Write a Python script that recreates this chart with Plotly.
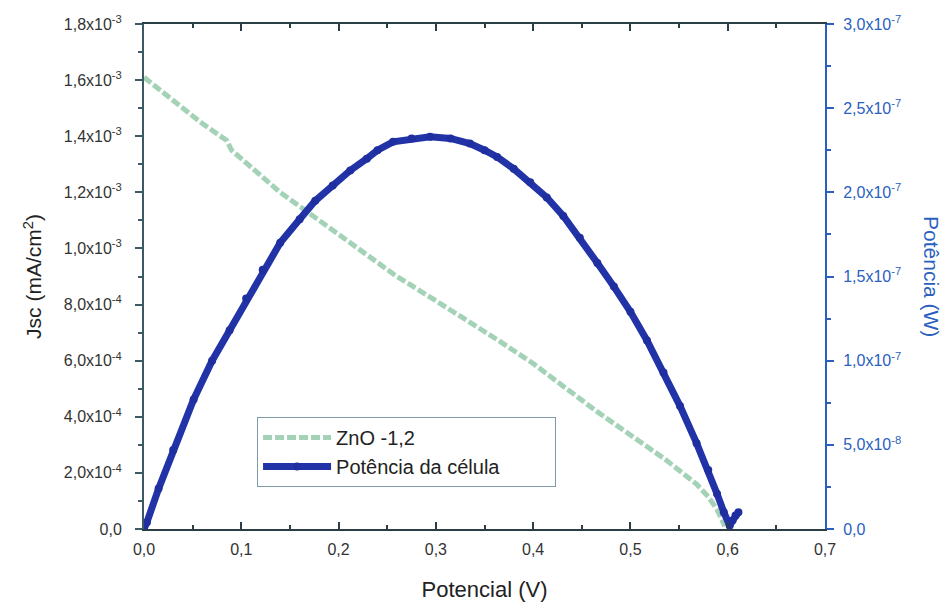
import plotly.graph_objects as go

# ---- data ----
jsc_v = [0.0, 0.02, 0.04, 0.06, 0.085, 0.09, 0.10, 0.12, 0.14, 0.16, 0.18, 0.20, 0.236,
         0.26, 0.297, 0.33, 0.363, 0.40, 0.431, 0.465, 0.50, 0.535, 0.568, 0.58, 0.589, 0.597]
jsc_j = [1.61e-3, 1.555e-3, 1.50e-3, 1.445e-3, 1.385e-3, 1.35e-3, 1.32e-3, 1.26e-3, 1.20e-3,
         1.15e-3, 1.10e-3, 1.05e-3, 0.96e-3, 0.90e-3, 0.82e-3, 0.75e-3, 0.675e-3, 0.59e-3,
         0.507e-3, 0.42e-3, 0.335e-3, 0.25e-3, 0.16e-3, 0.115e-3, 0.07e-3, 0.01e-3]

pow_v = [0.0, 0.003, 0.015, 0.030, 0.051, 0.070, 0.088, 0.105, 0.122, 0.140, 0.160, 0.176,
         0.194, 0.212, 0.229, 0.240, 0.256, 0.275, 0.294, 0.315, 0.335, 0.350, 0.363, 0.380,
         0.397, 0.414, 0.431, 0.448, 0.466, 0.483, 0.500, 0.517, 0.534, 0.551, 0.568, 0.580,
         0.589, 0.596, 0.602, 0.605, 0.608, 0.611]
pow_w = [0.0, 0.04e-7, 0.24e-7, 0.47e-7, 0.77e-7, 1.00e-7, 1.18e-7, 1.37e-7, 1.54e-7, 1.70e-7,
         1.84e-7, 1.95e-7, 2.04e-7, 2.13e-7, 2.20e-7, 2.25e-7, 2.30e-7, 2.32e-7, 2.33e-7,
         2.32e-7, 2.29e-7, 2.25e-7, 2.21e-7, 2.14e-7, 2.06e-7, 1.97e-7, 1.86e-7, 1.73e-7,
         1.58e-7, 1.44e-7, 1.29e-7, 1.12e-7, 0.93e-7, 0.73e-7, 0.51e-7, 0.35e-7, 0.21e-7,
         0.10e-7, 0.02e-7, 0.05e-7, 0.08e-7, 0.10e-7]

x_ticks = [0.0, 0.1, 0.2, 0.3, 0.4, 0.5, 0.6, 0.7]
x_labels = ["0,0", "0,1", "0,2", "0,3", "0,4", "0,5", "0,6", "0,7"]
y_ticks = [0.0, 2e-4, 4e-4, 6e-4, 8e-4, 1.0e-3, 1.2e-3, 1.4e-3, 1.6e-3, 1.8e-3]
y_labels = ["0,0", "2,0x10<sup>-4</sup>", "4,0x10<sup>-4</sup>", "6,0x10<sup>-4</sup>",
            "8,0x10<sup>-4</sup>", "1,0x10<sup>-3</sup>", "1,2x10<sup>-3</sup>",
            "1,4x10<sup>-3</sup>", "1,6x10<sup>-3</sup>", "1,8x10<sup>-3</sup>"]
y2_ticks = [0.0, 5e-8, 1.0e-7, 1.5e-7, 2.0e-7, 2.5e-7, 3.0e-7]
y2_labels = ["0,0", "5,0x10<sup>-8</sup>", "1,0x10<sup>-7</sup>", "1,5x10<sup>-7</sup>",
             "2,0x10<sup>-7</sup>", "2,5x10<sup>-7</sup>", "3,0x10<sup>-7</sup>"]
series_names = ["ZnO -1,2", "Potência da célula"]

FONT = "Liberation Sans, Arial, sans-serif"
LEFT_C = "#3b5a63"
RIGHT_C = "#2a5fc0"
TICK_F = 16
PAD = "&nbsp;" * 9

fig = go.Figure()
fig.add_trace(go.Scatter(
    x=jsc_v, y=jsc_j, name=series_names[0] + PAD, mode="lines",
    line=dict(color="#a3d2b6", width=5, dash="9px,3px"), yaxis="y"))
fig.add_trace(go.Scatter(
    x=pow_v, y=pow_w, name=series_names[1] + PAD, mode="lines+markers",
    line=dict(color="#2233a8", width=7),
    marker=dict(color="#1f2fa0", size=8), yaxis="y2"))

# page body has an 8px margin, so the figure is 943x604 and shifted by 8px
fig.update_layout(
    width=943, height=604,
    margin=dict(l=136, r=126, t=16, b=83, autoexpand=False),
    paper_bgcolor="white", plot_bgcolor="white",
    font=dict(family=FONT, size=TICK_F, color="#333333"),
    showlegend=True,
    legend=dict(x=0.166, y=0.222, xanchor="left", yanchor="top",
                bordercolor="#7f9aa8", borderwidth=1, bgcolor="white",
                font=dict(family=FONT, size=20, color="#222222"),
                tracegroupgap=0, itemwidth=68),
    xaxis=dict(range=[0, 0.7], tickvals=x_ticks, ticktext=x_labels, automargin=False,
               showgrid=False, zeroline=False, showline=True, linecolor="#2b3d45",
               linewidth=2, ticks="inside", ticklen=7, tickwidth=2, tickcolor="#2b3d45",
               mirror="ticks", ticklabelstandoff=5,
               minor=dict(ticks="inside", ticklen=4, tickwidth=2, tickcolor="#2b3d45", dtick=0.05),
               tickfont=dict(size=TICK_F, color="#333333"),
               title=dict(text="Potencial (V)", font=dict(size=22, color="#222222"), standoff=24)),
    yaxis=dict(range=[0, 1.8e-3], tickvals=y_ticks, ticktext=y_labels, automargin=False,
               showgrid=False, zeroline=False, showline=True, linecolor=LEFT_C,
               linewidth=2, ticks="outside", ticklen=7, tickwidth=2, tickcolor=LEFT_C,
               ticklabelstandoff=10,
               minor=dict(ticks="outside", ticklen=4, tickwidth=2, tickcolor=LEFT_C, dtick=1e-4),
               tickfont=dict(size=TICK_F, color="#333333"),
               title=dict(text="Jsc (mA/cm<sup>2</sup>)", font=dict(size=21, color="#222222"), standoff=16)),
    yaxis2=dict(range=[0, 3.0e-7], tickvals=y2_ticks, ticktext=y2_labels, automargin=False,
                overlaying="y", side="right", anchor="x",
                showgrid=False, zeroline=False, showline=True, linecolor=RIGHT_C,
                linewidth=2, ticks="outside", ticklen=7, tickwidth=2, tickcolor=RIGHT_C,
                ticklabelstandoff=6,
                minor=dict(ticks="outside", ticklen=4, tickwidth=2, tickcolor=RIGHT_C, dtick=2.5e-8),
                tickfont=dict(size=TICK_F, color=RIGHT_C)),
    annotations=[dict(text="Potência (W)", xref="paper", yref="paper", x=1.0, y=0.5,
                      xanchor="left", yanchor="middle", xshift=93, textangle=90, showarrow=False,
                      font=dict(family=FONT, size=21, color=RIGHT_C))],
)

fig.write_html("out.html")
